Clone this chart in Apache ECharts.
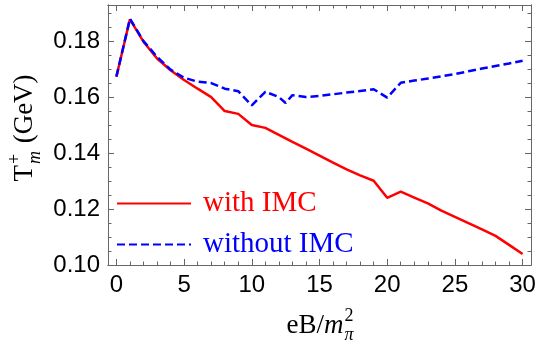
<!DOCTYPE html>
<html>
<head>
<meta charset="utf-8">
<script src="https://cdn.jsdelivr.net/npm/echarts@6/dist/echarts.min.js"></script>
<style>
html,body{margin:0;padding:0;background:#fff;}
#chart{width:543px;height:343px;}
</style>
</head>
<body>
<div id="chart"></div>
<script>
// ---- data ----
const xWith = [0,1,2,3,4,5,6,7,8,9,10,11,12,13,14,15,16,17,18,19,20,21,22,23,24,25,26,27,28,29,30];
const yWith = [0.1673,0.1878,0.1798,0.1738,0.1696,0.1661,0.1630,0.1600,0.1550,0.1540,0.1500,0.1490,0.1465,0.1440,0.1416,0.1391,0.1366,0.1342,0.1320,0.1301,0.1240,0.1262,0.1241,0.1220,0.1194,0.1172,0.1150,0.1127,0.1104,0.1072,0.1039];
const xWithout = [0,1,2,3,4,5,6,7,8,9,10,11,12,12.5,13,14,15,16,17,18,19,20,21,22,23,24,25,26,27,28,29,30];
const yWithout = [0.1673,0.1880,0.1800,0.1744,0.1698,0.1669,0.1655,0.1650,0.1630,0.1621,0.1570,0.1619,0.1600,0.1579,0.1607,0.1600,0.1604,0.1610,0.1616,0.1622,0.1628,0.1598,0.1651,0.1659,0.1666,0.1674,0.1682,0.1692,0.1702,0.1711,0.1720,0.1730];
const seriesNames = ['with IMC','without IMC'];
const xMajorTicks = [0,5,10,15,20,25,30];
const xMinorTicks = [0,1,2,3,4,5,6,7,8,9,10,11,12,13,14,15,16,17,18,19,20,21,22,23,24,25,26,27,28,29,30];
const yMajorTicks = [0.10,0.12,0.14,0.16,0.18];
const yMinorTicks = [0.100,0.105,0.110,0.115,0.120,0.125,0.130,0.135,0.140,0.145,0.150,0.155,0.160,0.165,0.170,0.175,0.180,0.185,0.190];

// ---- style ----
const SERIF = '"Liberation Serif","Times New Roman",serif';
const SANS = '"Liberation Sans",Arial,sans-serif';
const FRAME = '#666666';
const RED = '#ff0000', BLUE = '#0000ff';
const X_MIN = -0.62, X_MAX = 30.62, Y_MIN = 0.10, Y_MAX = 0.1929;

const mctx = document.createElement('canvas').getContext('2d');
function tw(text, font){ mctx.font = font; return mctx.measureText(text).width; }

function xAxisDef(pos, ticks, len, labels){
  return {
    type:'value', position:pos, min:X_MIN, max:X_MAX,
    axisLine:{show:true, onZero:false, lineStyle:{color:FRAME, width:1}},
    axisTick:{show:true, inside:true, length:len, customValues:ticks, lineStyle:{color:FRAME, width:1}},
    axisLabel:{show:labels, customValues:ticks, margin:8, color:'#000', fontFamily:SANS, fontSize:24},
    splitLine:{show:false}, minorTick:{show:false}
  };
}
function yAxisDef(pos, ticks, len, labels){
  return {
    type:'value', position:pos, min:Y_MIN, max:Y_MAX,
    axisLine:{show:true, onZero:false, lineStyle:{color:FRAME, width:1}},
    axisTick:{show:true, inside:true, length:len, customValues:ticks, lineStyle:{color:FRAME, width:1}},
    axisLabel:{show:labels, customValues:ticks, margin:8, color:'#000', fontFamily:SANS, fontSize:24,
      formatter:function(v){ return v.toFixed(2); }},
    splitLine:{show:false}, minorTick:{show:false}
  };
}

// axis titles
const bigF = '27px ' + SERIF;
const itBigF = 'italic 27px ' + SERIF;
const smallF = '18px ' + SERIF;
const itSmallF = 'italic 18px ' + SERIF;

// Y title: T^+_m (GeV), rotated
const wT = tw('T', bigF);
const wSS = Math.max(tw('+', smallF), tw('m', itSmallF));
const yTitleChildren = [
  {type:'text', x:0, y:0, style:{text:'T', font:bigF, fill:'#000', verticalAlign:'middle'}},
  {type:'text', x:wT+1, y:-10, style:{text:'+', font:smallF, fill:'#000', verticalAlign:'middle'}},
  {type:'text', x:wT+1, y:10, style:{text:'m', font:itSmallF, fill:'#000', verticalAlign:'middle'}},
  {type:'text', x:wT+wSS+2, y:0, style:{text:' (GeV)', font:bigF, fill:'#000', verticalAlign:'middle'}}
];
const yTitleLen = wT + wSS + 2 + tw(' (GeV)', bigF);

// X title: eB/m^2_pi
const wEB = tw('eB/', bigF), wM = tw('m', itBigF);
const wSS2 = Math.max(tw('2', smallF), tw('π', itSmallF));
const xTitleLen = wEB + wM + 1 + wSS2;
const xTitleChildren = [
  {type:'text', x:0, y:0, style:{text:'eB/', font:bigF, fill:'#000', verticalAlign:'middle'}},
  {type:'text', x:wEB, y:0, style:{text:'m', font:itBigF, fill:'#000', verticalAlign:'middle'}},
  {type:'text', x:wEB+wM+1, y:-10, style:{text:'2', font:smallF, fill:'#000', verticalAlign:'middle'}},
  {type:'text', x:wEB+wM+1, y:9, style:{text:'π', font:itSmallF, fill:'#000', verticalAlign:'middle'}}
];

const chart = echarts.init(document.getElementById('chart'), null, {renderer:'canvas'});
chart.setOption({
  animation:false,
  backgroundColor:'#ffffff',
  grid:{left:108, right:12, top:5, bottom:78, containLabel:false},
  xAxis:[
    xAxisDef('bottom', xMajorTicks, 6, true),
    xAxisDef('bottom', xMinorTicks, 3.5, false),
    xAxisDef('top', xMajorTicks, 6, false),
    xAxisDef('top', xMinorTicks, 3.5, false)
  ],
  yAxis:[
    yAxisDef('left', yMajorTicks, 6, true),
    yAxisDef('left', yMinorTicks, 3.5, false),
    yAxisDef('right', yMajorTicks, 6, false),
    yAxisDef('right', yMinorTicks, 3.5, false)
  ],
  legend:{
    orient:'vertical', left:116, top:189, padding:0, itemWidth:74, itemHeight:14, itemGap:12,
    selectedMode:false,
    itemStyle:{opacity:0},
    textStyle:{fontFamily:SERIF, fontSize:29, lineHeight:27, padding:[0,0,0,7]},
    data:[
      {name:seriesNames[0], textStyle:{color:RED}},
      {name:seriesNames[1], textStyle:{color:BLUE}}
    ]
  },
  series:[
    {type:'line', name:seriesNames[0], xAxisIndex:0, yAxisIndex:0, symbol:'none',
      data:xWith.map(function(x,i){return [x, yWith[i]];}),
      lineStyle:{color:RED, width:2.5}, itemStyle:{color:RED}},
    {type:'line', name:seriesNames[1], xAxisIndex:0, yAxisIndex:0, symbol:'none',
      data:xWithout.map(function(x,i){return [x, yWithout[i]];}),
      lineStyle:{color:BLUE, width:2.5, type:[8,4]}, itemStyle:{color:BLUE}}
  ],
  graphic:[
    {type:'group', x:25, y:128 + yTitleLen/2, rotation:Math.PI/2, children:yTitleChildren},
    {type:'group', x:320 - xTitleLen/2, y:326, children:xTitleChildren}
  ]
});
</script>
</body>
</html>
